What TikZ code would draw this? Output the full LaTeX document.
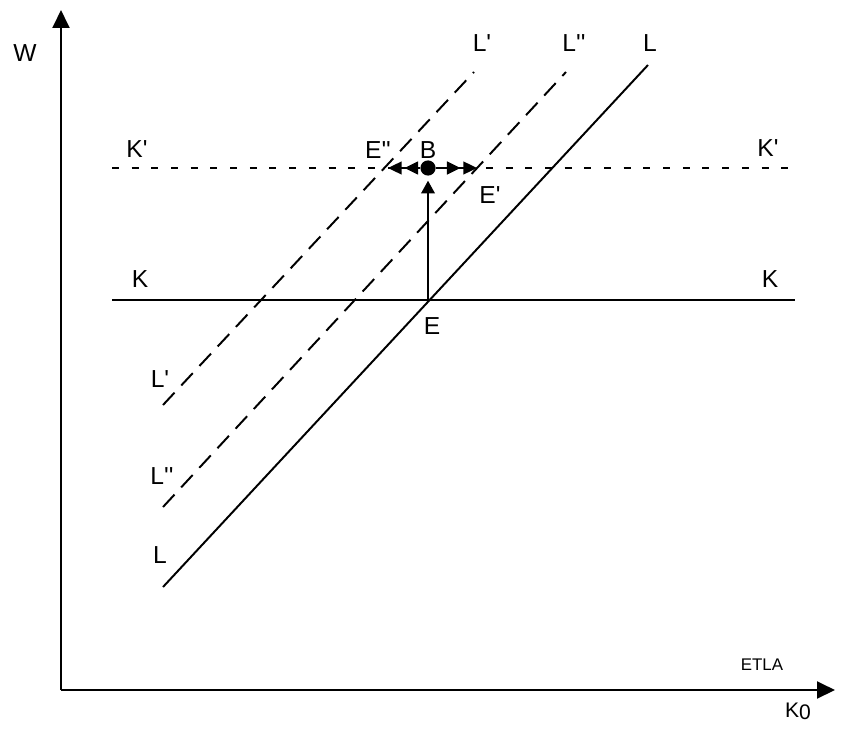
\documentclass[tikz,border=0pt]{standalone}
\usepackage{fontspec}
\setmainfont{Liberation Sans}[Ligatures=TeXOff]
\usepackage{xcolor}
\usepackage{tikz}
\usetikzlibrary{arrows.meta, positioning, calc}

\tikzset{
  axisline/.style={line width=2pt, -{Triangle[length=0.45cm, width=0.42cm]}},
  curveline/.style={line width=1.4pt},
  shiftline/.style={line width=1.4pt, dash pattern=on 12pt off 7pt},
  levelline/.style={line width=1.6pt, dash pattern=on 5pt off 9pt},
  moveline/.style={line width=1.2pt, -{Triangle[length=0.34cm, width=0.32cm, sep=2pt] Triangle[length=0.34cm, width=0.32cm]}},
  pointdot/.style={circle, fill=black, inner sep=0pt, minimum size=0.38cm},
  lbl/.style={inner sep=0pt, font=\fontsize{17.5}{20}\selectfont}
}

\begin{document}
\begin{tikzpicture}
  \useasboundingbox (0,0) rectangle (21.075,18.2);

  % Axes
  \coordinate (O) at (1.525,0.95);
  \coordinate (Wtop) at (1.525,17.95);
  \coordinate (Kend) at (20.875,0.95);
  \draw[axisline] (O) -- (Wtop);
  \draw[axisline] (O) -- (Kend);
  \node[lbl] (labW) at (0.625,16.875) {W};
  \node[lbl, font=\fontsize{15}{18}\selectfont] (labK0) at (19.95,0.42) {K\raisebox{-0.12em}{0}};
  \node[lbl, font=\fontsize{12}{14}\selectfont] (labETLA) at (19.05,1.575) {ETLA};

  % K and K'
  \coordinate (Ka) at (2.8,10.7);
  \coordinate (Kb) at (19.875,10.7);
  \draw[curveline] (Ka) -- (Kb);
  \node[lbl] (labKa) at (3.5,11.225) {K};
  \node[lbl] (labKb) at (19.25,11.225) {K};
  \coordinate (Kpa) at (2.8,14.0);
  \coordinate (Kpb) at (19.875,14.0);
  \draw[levelline] (Kpa) -- (Kpb);
  \node[lbl] (labKpa) at (3.425,14.475) {K'};
  \node[lbl] (labKpb) at (19.2,14.5) {K'};

  % L, L'' and L'
  \coordinate (La) at (4.075,3.525);
  \coordinate (Lb) at (16.2,16.575);
  \draw[curveline] (La) -- (Lb);
  \coordinate (Lppa) at (4.075,5.525);
  \coordinate (Lppb) at (14.15,16.4);
  \draw[shiftline] (Lppa) -- (Lppb);
  \coordinate (Lpa) at (4.075,8.075);
  \coordinate (Lpb) at (11.85,16.4);
  \draw[shiftline] (Lpa) -- (Lpb);
  \node[lbl] (labLa) at (4.0,4.325) {L};
  \node[lbl] (labLppa) at (4.05,6.3) {L''};
  \node[lbl] (labLpa) at (4.0,8.725) {L'};
  \node[lbl] (labLb) at (16.25,17.125) {L};
  \node[lbl] (labLppb) at (14.35,17.125) {L''};
  \node[lbl] (labLpb) at (12.05,17.125) {L'};

  % Equilibria
  \coordinate (E) at (10.7,10.7);
  \node[pointdot] (B) at (10.7,14.0) {};
  \coordinate (Epp) at (9.7,14.0);
  \coordinate (Ep) at (11.925,14.0);
  \draw[line width=1.4pt, -{Triangle[length=0.32cm, width=0.34cm]}, shorten >=0.12cm] (E) -- (B);
  \draw[moveline] (B) -- (Epp);
  \draw[moveline] (B) -- (Ep);
  \node[lbl] (labE) at (10.8,10.05) {E};
  \node[lbl] (labB) at (10.7,14.45) {B};
  \node[lbl] (labEpp) at (9.45,14.45) {E''};
  \node[lbl] (labEp) at (12.25,13.325) {E'};
\end{tikzpicture}
\end{document}
